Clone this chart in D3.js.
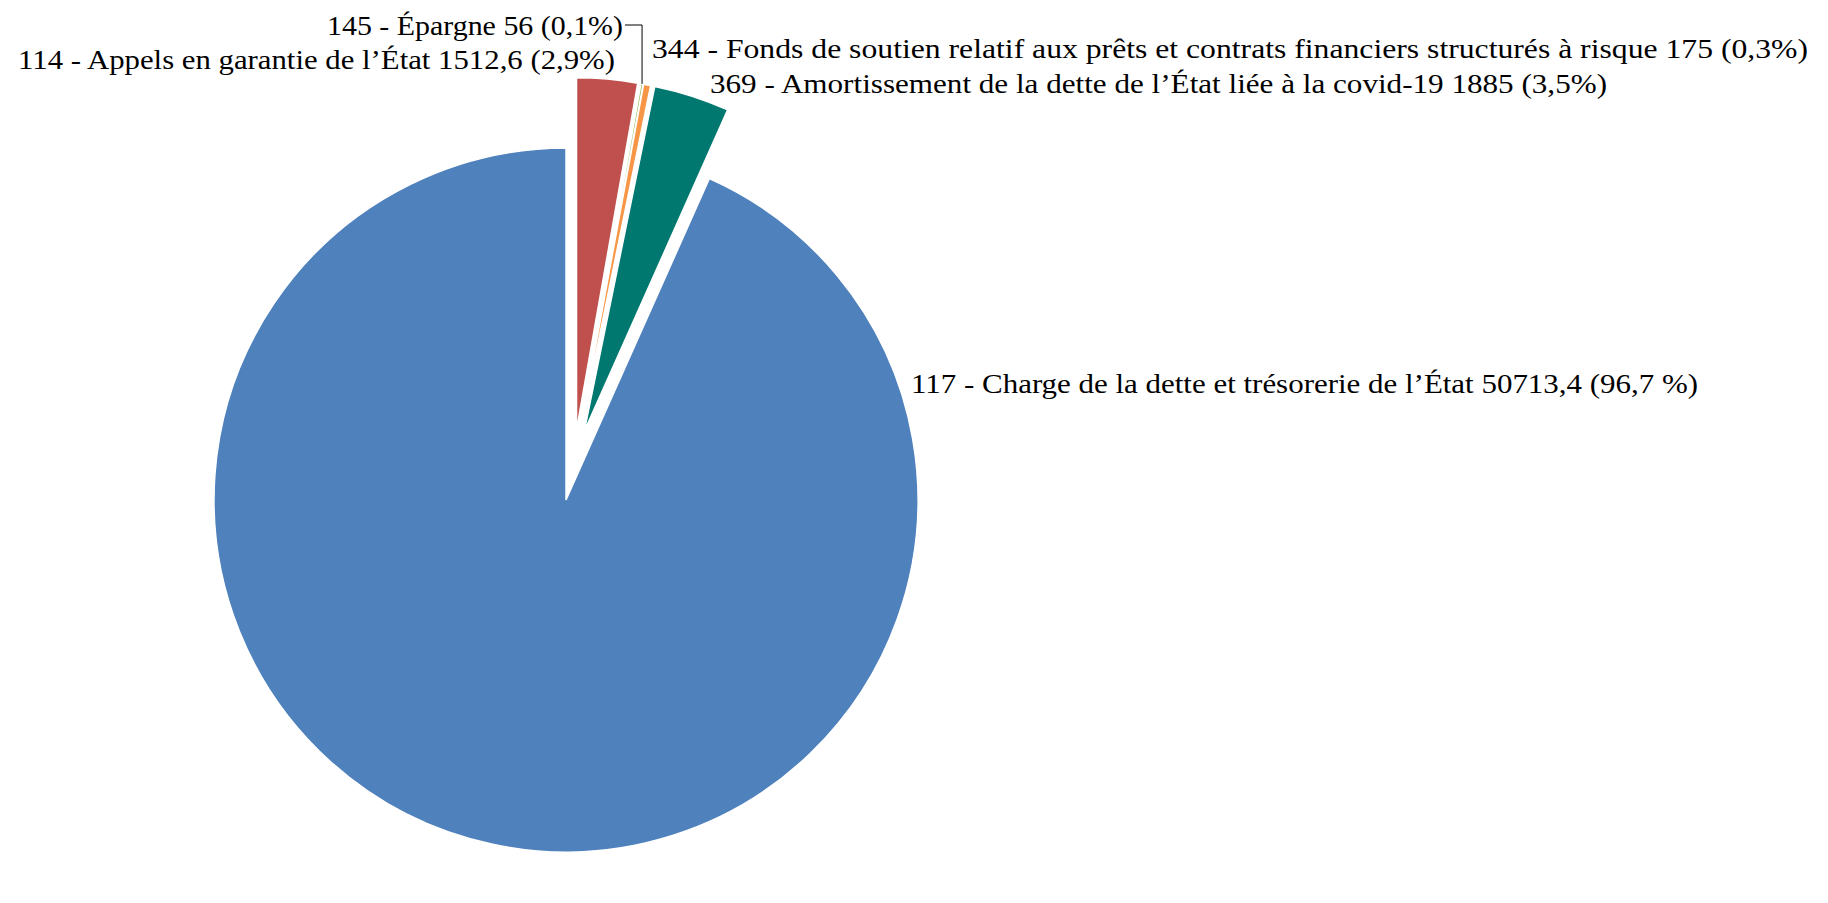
<!DOCTYPE html>
<html>
<head>
<meta charset="utf-8">
<script src="https://cdn.jsdelivr.net/npm/d3@7"></script>
<style>
  body { margin: 0; background: #fff; }
  text { font-family: "Palatino Linotype", "Book Antiqua", Palatino, "Liberation Serif", serif; }
</style>
</head>
<body>
<div id="chart"></div>
<script>
// Data (order is clockwise from 12 o'clock)
const codes = ["114", "145", "344", "369", "117"];
const names = [
  "Appels en garantie de l’État",
  "Épargne",
  "Fonds de soutien relatif aux prêts et contrats financiers structurés à risque",
  "Amortissement de la dette de l’État liée à la covid-19",
  "Charge de la dette et trésorerie de l’État"
];
const values = [1512.6, 56, 175, 1885, 50713.4];
const valueLabels = ["1512,6", "56", "175", "1885", "50713,4"];
const pctLabels = ["(2,9%)", "(0,1%)", "(0,3%)", "(3,5%)", "(96,7 %)"];
const exploded = [true, true, true, true, false];
const colors = ["#C0504D", "#9BBB59", "#F79646", "#00776F", "#4F81BD"];

const width = 1828;
const height = 903;
const cx = 566, cy = 500, radius = 352;
const explodeDist = 71;

// label placement (text anchor point, baseline, rendered width)
const labelLayout = [
  { x: 615, y: 69, anchor: "end", w: 597 },
  { x: 623, y: 35, anchor: "end", w: 296, leader: true },
  { x: 652, y: 58, anchor: "start", w: 1156 },
  { x: 710, y: 93, anchor: "start", w: 897 },
  { x: 911, y: 393, anchor: "start", w: 787 }
];

const data = codes.map((c, i) => ({
  code: c, name: names[i], value: values[i],
  label: `${c} - ${names[i]} ${valueLabels[i]} ${pctLabels[i]}`,
  exploded: exploded[i], color: colors[i]
}));

const svg = d3.select("#chart").append("svg")
  .attr("width", width)
  .attr("height", height);

const pie = d3.pie().value(d => d.value).sort(null);
const arcs = pie(data);
const arc = d3.arc().innerRadius(0).outerRadius(radius);

// exploded group spans from first to last exploded slice
const ex = arcs.filter(a => a.data.exploded);
const groupMid = (ex[0].startAngle + ex[ex.length - 1].endAngle) / 2;

function offset(a) {
  if (!a.data.exploded) return [0, 0];
  const ang = ((a.startAngle + a.endAngle) / 2 + groupMid) / 2;
  return [explodeDist * Math.sin(ang), -explodeDist * Math.cos(ang)];
}

const g = svg.append("g").attr("transform", `translate(${cx},${cy})`);

g.selectAll("path")
  .data(arcs)
  .join("path")
  .attr("transform", d => `translate(${offset(d)})`)
  .attr("d", arc)
  .attr("fill", d => d.data.color)
  .attr("stroke", "#fff")
  .attr("stroke-width", 1.5);

// labels
svg.selectAll("text.lbl")
  .data(arcs)
  .join("text")
  .attr("class", "lbl")
  .attr("x", (d, i) => labelLayout[i].x)
  .attr("y", (d, i) => labelLayout[i].y)
  .attr("text-anchor", (d, i) => labelLayout[i].anchor)
  .attr("textLength", (d, i) => labelLayout[i].w)
  .attr("lengthAdjust", "spacingAndGlyphs")
  .style("font-size", "28px")
  .style("fill", "#000")
  .text(d => d.data.label);

// leader line for the tiny slice
arcs.forEach((a, i) => {
  if (!labelLayout[i].leader) return;
  const mid = (a.startAngle + a.endAngle) / 2;
  const [ox, oy] = offset(a);
  const px = cx + ox + radius * Math.sin(mid);
  const py = cy + oy - radius * Math.cos(mid);
  const lx = labelLayout[i].x + 2;
  const ly = labelLayout[i].y - 10;
  svg.append("path")
    .attr("d", `M${lx},${ly}H${px}V${py}`)
    .attr("fill", "none")
    .attr("stroke", "#000")
    .attr("stroke-width", 1);
});
</script>
</body>
</html>
